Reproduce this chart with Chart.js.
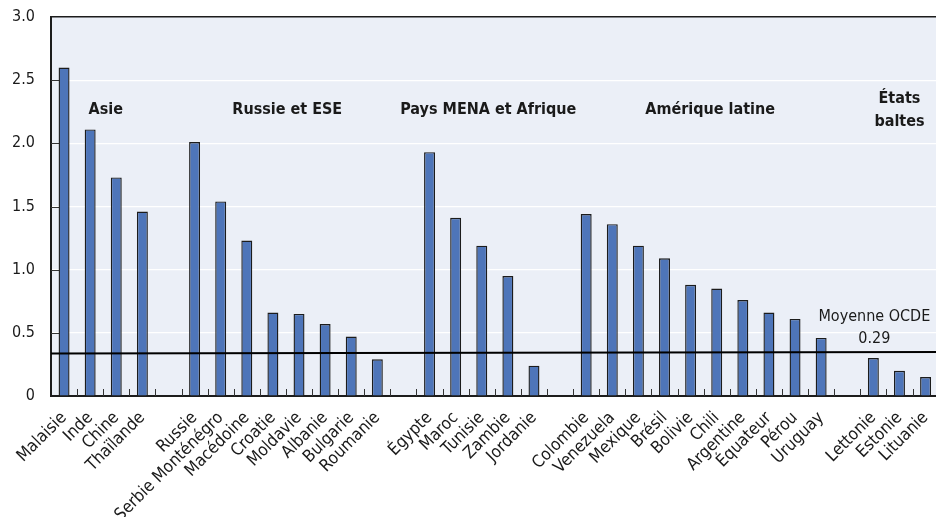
<!DOCTYPE html>
<html>
<head>
<meta charset="utf-8">
<script src="https://cdn.jsdelivr.net/npm/chart.js@4/dist/chart.umd.min.js"></script>
<style>
  html, body { margin: 0; padding: 0; background: #fff; overflow: hidden; }
  #wrap { width: 944px; height: 517px; }
</style>
</head>
<body>
<div id="wrap"><canvas id="chart" width="944" height="517"></canvas></div>
<script>
// Pays (les chaînes vides sont les espaces entre groupes)
const countries = [
    'Malaisie', 'Inde', 'Chine', 'Thaïlande', '',
    'Russie', 'Serbie Monténégro', 'Macédoine', 'Croatie', 'Moldavie', 'Albanie', 'Bulgarie', 'Roumanie', '',
    'Égypte', 'Maroc', 'Tunisie', 'Zambie', 'Jordanie', '',
    'Colombie', 'Venezuela', 'Mexique', 'Brésil', 'Bolivie', 'Chili', 'Argentine', 'Équateur', 'Pérou', 'Uruguay', '',
    'Lettonie', 'Estonie', 'Lituanie'
];
const values = [
    2.60, 2.11, 1.73, 1.46, null,
    2.01, 1.54, 1.23, 0.66, 0.65, 0.57, 0.47, 0.29, null,
    1.93, 1.41, 1.19, 0.95, 0.24, null,
    1.44, 1.36, 1.19, 1.09, 0.88, 0.85, 0.76, 0.66, 0.61, 0.46, null,
    0.30, 0.20, 0.15
];
const yTicks = [0, 0.5, 1.0, 1.5, 2.0, 2.5, 3.0];

// Groupes régionaux : libellé et position (en catégories)
const groupNames = [['Asie'], ['Russie et ESE'], ['Pays MENA et Afrique'], ['Amérique latine'], ['États', 'baltes']];
const groupAt = [1.6, 8.55, 16.25, 24.75, 32];
const groupLabelY = 2.265;

// Moyenne OCDE
const oecdLine = [0.336, 0.349];
const oecdText = ['Moyenne OCDE', '0.29'];
const oecdTextAt = 31;
const oecdTextY = [0.627, 0.45];

const FONT = "'Liberation Sans Narrow', 'DejaVu Sans Condensed', 'Roboto Condensed', 'Arial Narrow', sans-serif";

const bgPlugin = {
    id: 'bg',
    beforeDraw(chart) {
        const { ctx, chartArea: a } = chart;
        ctx.save();
        ctx.fillStyle = '#ffffff';
        ctx.fillRect(0, 0, chart.width, chart.height);
        ctx.fillStyle = '#ebeff7';
        ctx.fillRect(a.left, a.top, a.right - a.left, a.bottom - a.top);
        ctx.restore();
    },
    beforeDatasetsDraw(chart) {
        const { ctx, chartArea: a } = chart;
        const x = chart.scales.x, y = chart.scales.y;
        ctx.save();
        ctx.strokeStyle = '#333';
        ctx.lineWidth = 1;
        // petits traits entre catégories, vers l'intérieur
        for (let i = 1; i < countries.length; i++) {
            const px = Math.round((x.getPixelForValue(i - 1) + x.getPixelForValue(i)) / 2) + 0.5;
            ctx.beginPath();
            ctx.moveTo(px, a.bottom);
            ctx.lineTo(px, a.bottom - 7);
            ctx.stroke();
        }
        // graduations de l'axe vertical, vers l'intérieur
        yTicks.forEach(v => {
            if (v === 0 || v === 3) return;
            const py = Math.round(y.getPixelForValue(v)) + 0.5;
            ctx.beginPath();
            ctx.moveTo(a.left, py);
            ctx.lineTo(a.left + 8, py);
            ctx.stroke();
        });
        ctx.restore();
    }
};

const annotPlugin = {
    id: 'annot',
    afterDatasetsDraw(chart) {
        const { ctx, chartArea: a } = chart;
        const x = chart.scales.x, y = chart.scales.y;
        ctx.save();

        // ligne moyenne OCDE
        ctx.strokeStyle = '#000';
        ctx.lineWidth = 2;
        ctx.beginPath();
        ctx.moveTo(a.left, y.getPixelForValue(oecdLine[0]));
        ctx.lineTo(a.right, y.getPixelForValue(oecdLine[1]));
        ctx.stroke();

        ctx.fillStyle = '#1a1a1a';
        ctx.textAlign = 'center';
        ctx.textBaseline = 'middle';
        ctx.font = '16px ' + FONT;
        oecdText.forEach((t, k) => {
            ctx.fillText(t, x.getPixelForValue(oecdTextAt) + 1, y.getPixelForValue(oecdTextY[k]));
        });

        // libellés de groupes
        ctx.font = 'bold 16px ' + FONT;
        groupNames.forEach((lines, g) => {
            const cx = x.getPixelForValue(groupAt[g]);
            const cy = y.getPixelForValue(groupLabelY);
            lines.forEach((t, k) => {
                const off = (k - (lines.length - 1) / 2) * 23;
                ctx.fillText(t, cx, cy + off);
            });
        });
        ctx.restore();
    }
};

new Chart(document.getElementById('chart').getContext('2d'), {
    type: 'bar',
    data: {
        labels: countries,
        datasets: [{
            data: values,
            backgroundColor: '#4e75b9',
            borderColor: '#1c1c1c',
            borderWidth: 1.4,
            borderSkipped: 'bottom',
            barPercentage: 0.42,
            categoryPercentage: 1
        }]
    },
    options: {
        responsive: false,
        animation: false,
        events: [],
        layout: { padding: { top: 17, right: 0, left: 0, bottom: 0 } },
        plugins: { legend: { display: false }, tooltip: { enabled: false } },
        scales: {
            x: {
                offset: true,
                grid: { display: false },
                border: { display: true, color: '#1c1c1c', width: 2 },
                ticks: {
                    autoSkip: false,
                    maxRotation: 45,
                    minRotation: 45,
                    padding: 4,
                    color: '#1a1a1a',
                    font: { family: FONT, size: 17 }
                },
                afterFit(scale) { scale.height = 121; }
            },
            y: {
                min: 0,
                max: 3,
                afterBuildTicks(scale) { scale.ticks = yTicks.map(v => ({ value: v })); },
                grid: {
                    color: c => c.tick && c.tick.value === 3 ? '#1c1c1c' : '#ffffff',
                    lineWidth: c => c.tick && c.tick.value === 3 ? 1.6 : 1.2,
                    drawTicks: false
                },
                border: { display: true, color: '#1c1c1c', width: 2 },
                ticks: {
                    padding: 16,
                    color: '#1a1a1a',
                    font: { family: FONT, size: 16 },
                    callback: v => v === 0 ? '0' : v.toFixed(1)
                },
                afterFit(scale) {
                    scale.width = 51;
                    scale.paddingTop = 0;
                    scale.paddingBottom = 0;
                }
            }
        }
    },
    plugins: [bgPlugin, annotPlugin]
});
</script>
</body>
</html>
